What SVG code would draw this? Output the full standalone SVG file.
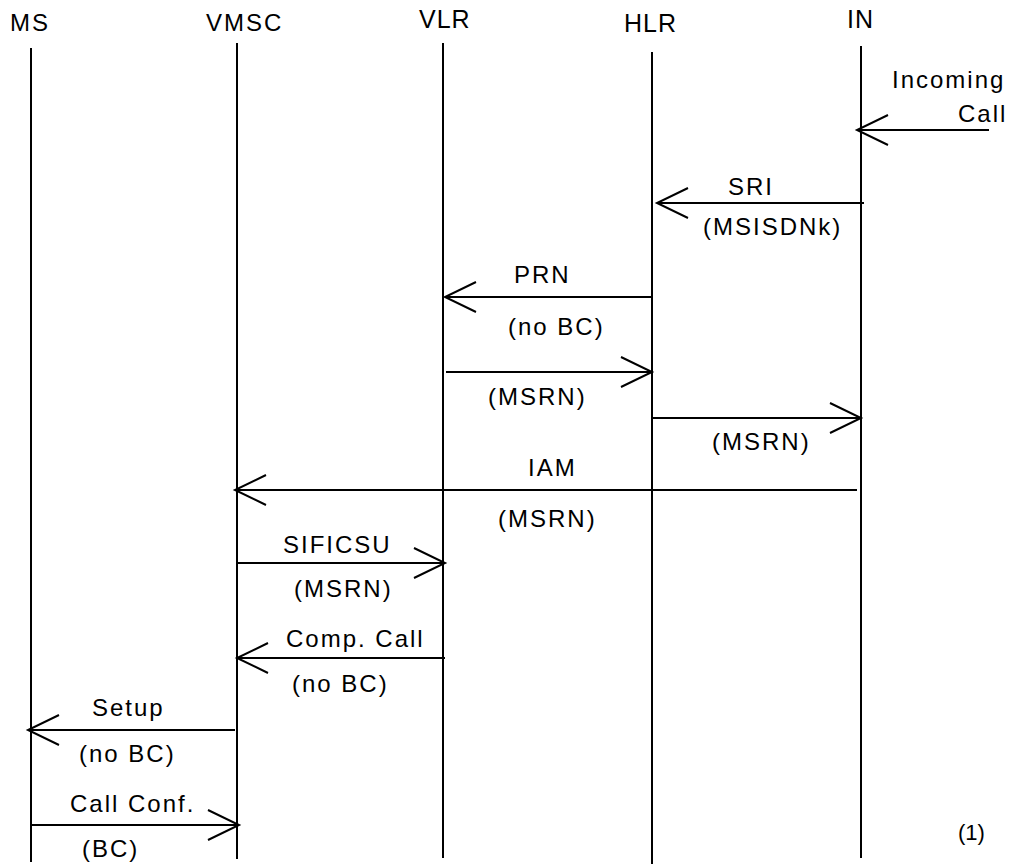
<svg xmlns="http://www.w3.org/2000/svg" width="1012" height="866" viewBox="0 0 1012 866">
<style>
.life{stroke:#000;stroke-width:2;fill:none}
.msg{stroke:#000;stroke-width:2;fill:none;marker-end:url(#arr)}
.hd{font-family:"Liberation Sans",Arial,sans-serif;font-size:24px;letter-spacing:2px;fill:#000}
.hd2{font-family:"Liberation Sans",Arial,sans-serif;font-size:25px;letter-spacing:1px;fill:#000}
.lb{font-family:"Liberation Sans",Arial,sans-serif;font-size:24px;letter-spacing:2px;fill:#000}
.nt{font-family:"Liberation Sans",Arial,sans-serif;font-size:22px;fill:#000}
</style>
<defs>
<marker id="arr" markerUnits="userSpaceOnUse" orient="auto" markerWidth="40" markerHeight="40" refX="0" refY="0" viewBox="-35 -20 40 40" overflow="visible">
<path d="M-31,-15 L0,0 L-31,15" fill="none" stroke="#000" stroke-width="2"/>
</marker>
</defs>
<rect width="1012" height="866" fill="#fff"/>
<g id="node-MS">
<text class="hd" x="10" y="31">MS</text>
<line class="life" x1="31" y1="48" x2="31" y2="862"/>
</g>
<g id="node-VMSC">
<text class="hd" x="206" y="31">VMSC</text>
<line class="life" x1="237" y1="43" x2="237" y2="859"/>
</g>
<g id="node-VLR">
<text class="hd2" x="419" y="28">VLR</text>
<line class="life" x1="443" y1="43" x2="443" y2="858"/>
</g>
<g id="node-HLR">
<text class="hd2" x="624" y="32">HLR</text>
<line class="life" x1="652" y1="52" x2="652" y2="864"/>
</g>
<g id="node-IN">
<text class="hd2" x="847" y="28">IN</text>
<line class="life" x1="861" y1="46" x2="861" y2="858"/>
</g>
<g id="connectors">
<line class="msg" x1="989" y1="130" x2="857" y2="130"/>
<line class="msg" x1="864" y1="203" x2="657" y2="203"/>
<line class="msg" x1="652" y1="297" x2="445" y2="297"/>
<line class="msg" x1="446" y1="372" x2="652" y2="372"/>
<line class="msg" x1="653" y1="418" x2="861" y2="418"/>
<line class="msg" x1="857" y1="490" x2="235" y2="490"/>
<line class="msg" x1="237" y1="563" x2="445" y2="563"/>
<line class="msg" x1="445" y1="658" x2="237" y2="658"/>
<line class="msg" x1="235" y1="730" x2="28" y2="730"/>
<line class="msg" x1="31" y1="825" x2="239" y2="825"/>
</g>
<g id="labels">
<text class="lb" x="892" y="88">Incoming</text>
<text class="lb" x="958" y="122">Call</text>
<text class="lb" x="728" y="195">SRI</text>
<text class="lb" x="703" y="235">(MSISDNk)</text>
<text class="lb" x="514" y="283">PRN</text>
<text class="lb" x="508" y="335">(no BC)</text>
<text class="lb" x="488" y="405">(MSRN)</text>
<text class="lb" x="712" y="450">(MSRN)</text>
<text class="lb" x="528" y="476">IAM</text>
<text class="lb" x="498" y="527">(MSRN)</text>
<text class="lb" x="283" y="553">SIFICSU</text>
<text class="lb" x="294" y="597">(MSRN)</text>
<text class="lb" x="286" y="647">Comp. Call</text>
<text class="lb" x="292" y="692">(no BC)</text>
<text class="lb" x="92" y="716">Setup</text>
<text class="lb" x="79" y="762">(no BC)</text>
<text class="lb" x="70" y="812">Call Conf.</text>
<text class="lb" x="82" y="857">(BC)</text>
<text class="nt" x="958" y="840">(1)</text>
</g>
</svg>
